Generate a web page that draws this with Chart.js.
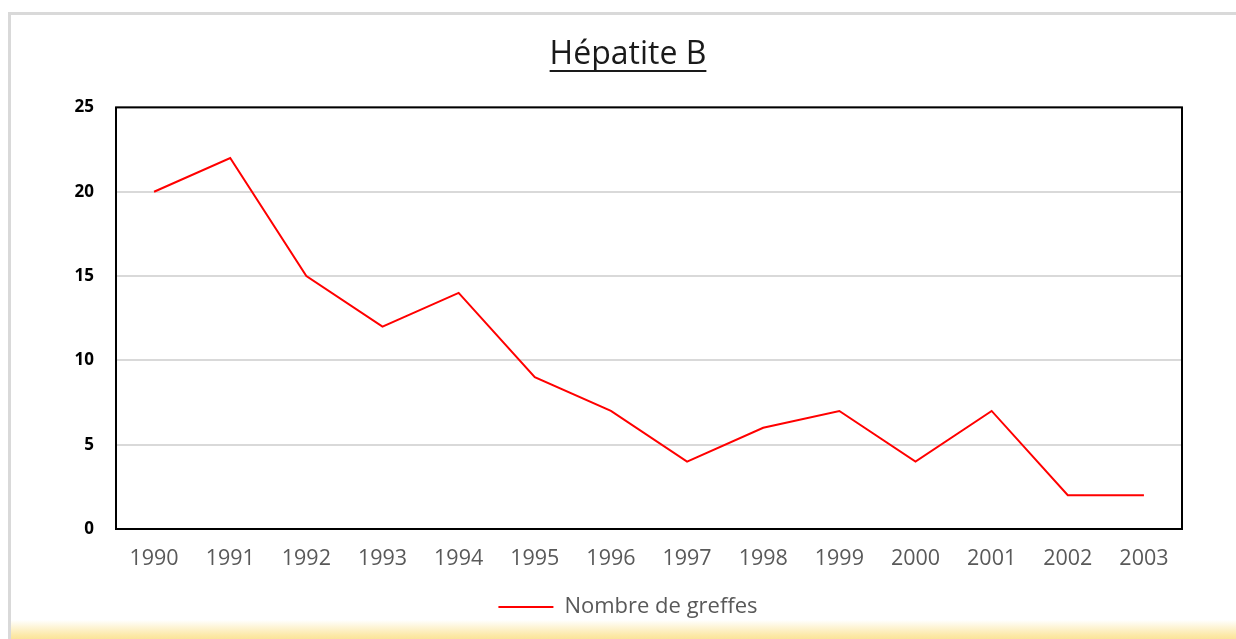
<!DOCTYPE html>
<html>
<head>
<meta charset="utf-8">
<script src="https://cdn.jsdelivr.net/npm/chart.js@4/dist/chart.umd.min.js"></script>
<style>
  html, body { margin: 0; padding: 0; background: #ffffff; }
  #wrap { position: relative; width: 1236px; height: 639px; overflow: hidden; background: #fff; }
  #frame { position: absolute; left: 8px; top: 12px; width: 1240px; height: 640px; border-left: 3px solid #d9d9d9; border-top: 3px solid #d9d9d9; box-sizing: border-box; }
  #glow { position: absolute; left: 11px; top: 620px; width: 1225px; height: 19px; background: linear-gradient(to bottom, rgba(255,255,255,0), #fce9a8 80%, #fbe39a); }
  #c { position: absolute; left: 0; top: 0; }
</style>
</head>
<body>
<div id="wrap">
  <div id="frame"></div>
  <div id="glow"></div>
  <canvas id="c" width="1236" height="639"></canvas>
</div>
<script>
const years = ["1990","1991","1992","1993","1994","1995","1996","1997","1998","1999","2000","2001","2002","2003"];
const greffes = [20, 22, 15, 12, 14, 9, 7, 4, 6, 7, 4, 7, 2, 2];
const seriesName = "Nombre de greffes";
const chartTitle = "Hépatite B";
const yTicks = [0, 5, 10, 15, 20, 25];

const FONT = "'Open Sans', 'Noto Sans', sans-serif";

const underlineTitle = {
  id: 'underlineTitle',
  afterDraw(chart) {
    const t = chart.titleBlock;
    if (!t) return;
    const ctx = chart.ctx;
    const f = chart.options.plugins.title.font;
    ctx.save();
    ctx.font = f.weight + ' ' + f.size + 'px ' + f.family;
    const w = ctx.measureText(chartTitle).width;
    const cx = (t.left + t.right) / 2;
    const y = 71;
    ctx.strokeStyle = '#1a1a1a';
    ctx.lineWidth = 2;
    ctx.beginPath();
    ctx.moveTo(cx - w / 2, y);
    ctx.lineTo(cx + w / 2, y);
    ctx.stroke();
    ctx.restore();
  }
};

const plotBorder = {
  id: 'plotBorder',
  afterDatasetsDraw(chart) {
    const a = chart.chartArea;
    const ctx = chart.ctx;
    ctx.save();
    ctx.strokeStyle = '#000';
    ctx.lineWidth = 2;
    ctx.strokeRect(a.left, a.top, a.right - a.left, a.bottom - a.top);
    ctx.restore();
  }
};

new Chart(document.getElementById('c'), {
  type: 'line',
  data: {
    labels: years,
    datasets: [{
      label: seriesName,
      data: greffes,
      borderColor: '#ff0000',
      backgroundColor: '#ff0000',
      borderWidth: 2,
      pointRadius: 0,
      tension: 0,
      fill: false
    }]
  },
  plugins: [underlineTitle, plotBorder],
  options: {
    responsive: false,
    animation: false,
    devicePixelRatio: 1,
    layout: { padding: { left: 74, right: 54, top: 0, bottom: 11 } },
    plugins: {
      title: {
        display: true,
        text: chartTitle,
        color: '#1a1a1a',
        font: { family: FONT, size: 32, weight: 'normal' },
        padding: { top: 36, bottom: 33 }
      },
      legend: {
        display: true,
        position: 'bottom',
        labels: {
          color: '#595959',
          font: { family: FONT, size: 22 },
          boxWidth: 55,
          boxHeight: 0,
          padding: 9
        }
      },
      tooltip: { enabled: false }
    },
    scales: {
      x: {
        offset: true,
        grid: { display: false, drawTicks: false },
        border: { display: false },
        ticks: { color: '#595959', font: { family: FONT, size: 21.5 }, padding: 17, maxRotation: 0 },
        afterFit(s) { s.height = 58; }
      },
      y: {
        min: 0,
        max: 25,
        afterBuildTicks(s) { s.ticks = yTicks.map(v => ({ value: v })); },
        grid: { color: '#d9d9d9', lineWidth: 2, drawTicks: false },
        border: { display: false },
        ticks: { color: '#000', font: { family: FONT, size: 17, weight: 'bold' }, padding: 22 },
        afterFit(s) { s.width = 42; }
      }
    }
  }
});
</script>
</body>
</html>
